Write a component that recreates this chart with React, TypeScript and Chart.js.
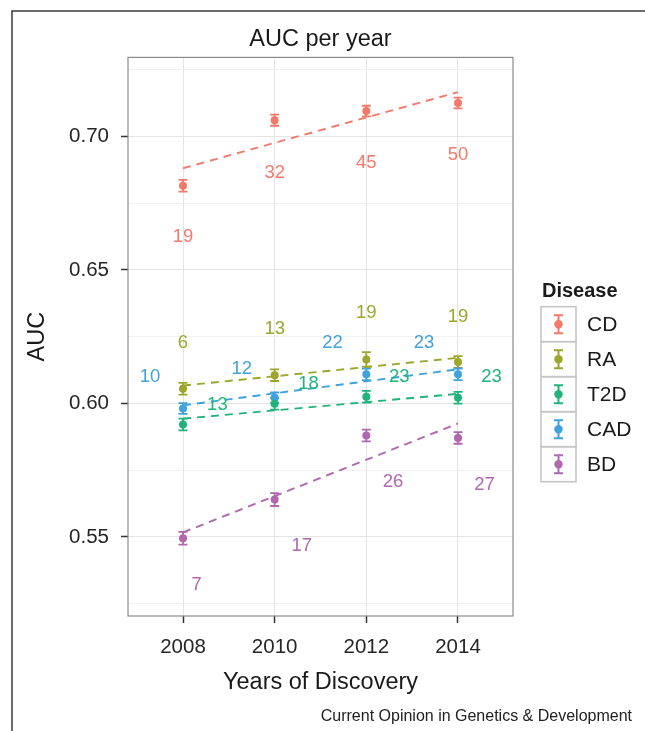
import React, { useEffect, useRef } from 'react';
import { Chart, registerables } from 'chart.js';

Chart.register(...registerables);

// ---------- data ----------
const diseases = ['CD', 'RA', 'T2D', 'CAD', 'BD'];
const colors = ['#F37A6B', '#9BA62B', '#20B47A', '#3FA2DC', '#B067B0'];
const years = [2008, 2010, 2012, 2014];
const yTicks = [0.525, 0.55, 0.575, 0.6, 0.625, 0.65, 0.675, 0.7, 0.725];

const aucCD = [0.6815, 0.7061, 0.7095, 0.7125];
const aucRA = [0.6055, 0.6106, 0.6165, 0.6155];
const aucT2D = [0.5921, 0.5999, 0.6025, 0.6021];
const aucCAD = [0.5981, 0.6021, 0.6109, 0.6109];
const aucBD = [0.5495, 0.564, 0.588, 0.5871];

const errCD = [0.0022, 0.0021, 0.002, 0.002];
const errRA = [0.0022, 0.0022, 0.0027, 0.0022];
const errT2D = [0.0022, 0.0022, 0.0022, 0.0022];
const errCAD = [0.002, 0.002, 0.0022, 0.0022];
const errBD = [0.0024, 0.0024, 0.0022, 0.0022];

// fitted trend values at 2008 and 2014
const trendYears = [2008, 2014];
const trendCD = [0.6881, 0.7166];
const trendRA = [0.6067, 0.6171];
const trendT2D = [0.5943, 0.6036];
const trendCAD = [0.5993, 0.6128];
const trendBD = [0.5517, 0.5925];

// study counts and where they are printed (data coordinates)
const countCD = [19, 32, 45, 50];
const countRA = [6, 13, 19, 19];
const countT2D = [13, 18, 23, 23];
const countCAD = [10, 12, 22, 23];
const countBD = [7, 17, 26, 27];

const labXCD = [2008, 2010, 2012, 2014];
const labYCD = [0.6623, 0.6865, 0.6899, 0.693];
const labXRA = [2008, 2010, 2012, 2014];
const labYRA = [0.6228, 0.628, 0.634, 0.6325];
const labXT2D = [2008.75, 2010.74, 2012.72, 2014.73];
const labYT2D = [0.5996, 0.6075, 0.61, 0.61];
const labXCAD = [2007.28, 2009.28, 2011.26, 2013.26];
const labYCAD = [0.61, 0.6131, 0.6228, 0.6228];
const labXBD = [2008.3, 2010.59, 2012.58, 2014.58];
const labYBD = [0.5321, 0.5468, 0.5705, 0.5696];

const series = [
  { auc: aucCD, err: errCD, trend: trendCD, count: countCD, lx: labXCD, ly: labYCD },
  { auc: aucRA, err: errRA, trend: trendRA, count: countRA, lx: labXRA, ly: labYRA },
  { auc: aucT2D, err: errT2D, trend: trendT2D, count: countT2D, lx: labXT2D, ly: labYT2D },
  { auc: aucCAD, err: errCAD, trend: trendCAD, count: countCAD, lx: labXCAD, ly: labYCAD },
  { auc: aucBD, err: errBD, trend: trendBD, count: countBD, lx: labXBD, ly: labYBD },
];

const FONT = "'Liberation Sans', Arial, Helvetica, sans-serif";
const isMajor = (v: number) => Math.round(v * 1000) % 50 === 0;

const overlay = {
  id: 'overlay',
  beforeDraw(chart: any) {
    const ctx = chart.ctx;
    ctx.save();
    ctx.fillStyle = '#ffffff';
    ctx.fillRect(0, 0, chart.width, chart.height);
    ctx.strokeStyle = '#3a3a3a';
    ctx.lineWidth = 1.5;
    ctx.beginPath();
    ctx.moveTo(12, chart.height);
    ctx.lineTo(12, 11);
    ctx.lineTo(chart.width, 11);
    ctx.stroke();
    ctx.restore();
  },
  beforeDatasetsDraw(chart: any) {
    const ctx = chart.ctx;
    const xs = chart.scales.x;
    const ys = chart.scales.y;
    ctx.save();
    ctx.lineWidth = 1.8;
    series.forEach((s, i) => {
      ctx.strokeStyle = colors[i];
      years.forEach((yr, j) => {
        const px = xs.getPixelForValue(yr);
        const top = ys.getPixelForValue(s.auc[j] + s.err[j]);
        const bot = ys.getPixelForValue(s.auc[j] - s.err[j]);
        ctx.beginPath();
        ctx.moveTo(px, top);
        ctx.lineTo(px, bot);
        ctx.moveTo(px - 4.5, top);
        ctx.lineTo(px + 4.5, top);
        ctx.moveTo(px - 4.5, bot);
        ctx.lineTo(px + 4.5, bot);
        ctx.stroke();
      });
    });
    ctx.restore();
  },
  afterDatasetsDraw(chart: any) {
    const ctx = chart.ctx;
    const xs = chart.scales.x;
    const ys = chart.scales.y;
    const a = chart.chartArea;
    ctx.save();
    ctx.font = `18.5px ${FONT}`;
    ctx.textAlign = 'center';
    ctx.textBaseline = 'middle';
    series.forEach((s, i) => {
      ctx.fillStyle = colors[i];
      s.count.forEach((c, j) => {
        ctx.fillText(String(c), xs.getPixelForValue(s.lx[j]), ys.getPixelForValue(s.ly[j]));
      });
    });
    ctx.strokeStyle = '#8a8a8a';
    ctx.lineWidth = 1.2;
    ctx.strokeRect(a.left, a.top, a.right - a.left, a.bottom - a.top);
    ctx.restore();
  },
  afterDraw(chart: any) {
    const ctx = chart.ctx;
    ctx.save();
    ctx.fillStyle = '#1a1a1a';
    ctx.font = `bold 20px ${FONT}`;
    ctx.textAlign = 'left';
    ctx.textBaseline = 'middle';
    ctx.fillText('Disease', 542, 291);
    const bx = 541, by = 306.7, bw = 35, bh = 35;
    diseases.forEach((d, i) => {
      const top = by + i * bh;
      const cx = bx + bw / 2;
      const cy = top + bh / 2;
      ctx.strokeStyle = '#c6c6c6';
      ctx.lineWidth = 1.6;
      ctx.strokeRect(bx, top, bw, bh);
      ctx.strokeStyle = colors[i];
      ctx.lineWidth = 2;
      ctx.beginPath();
      ctx.moveTo(cx, cy - 9);
      ctx.lineTo(cx, cy + 9);
      ctx.moveTo(cx - 4.5, cy - 9);
      ctx.lineTo(cx + 4.5, cy - 9);
      ctx.moveTo(cx - 4.5, cy + 9);
      ctx.lineTo(cx + 4.5, cy + 9);
      ctx.stroke();
      ctx.fillStyle = colors[i];
      ctx.beginPath();
      ctx.arc(cx, cy, 4.2, 0, Math.PI * 2);
      ctx.fill();
      ctx.fillStyle = '#1a1a1a';
      ctx.font = `21px ${FONT}`;
      ctx.fillText(d, 587, cy + 1);
    });
    ctx.restore();
  },
};

export default function App() {
  const ref = useRef<HTMLCanvasElement | null>(null);

  useEffect(() => {
    if (!ref.current) return;
    const datasets: any[] = [];
    series.forEach((s, i) => {
      datasets.push({
        type: 'line',
        label: diseases[i] + ' trend',
        data: trendYears.map((yr, j) => ({ x: yr, y: s.trend[j] })),
        borderColor: colors[i],
        borderWidth: 1.9,
        borderDash: [8, 6],
        pointRadius: 0,
        fill: false,
        order: 2,
      });
      datasets.push({
        type: 'scatter',
        label: diseases[i],
        data: years.map((yr, j) => ({ x: yr, y: s.auc[j] })),
        backgroundColor: colors[i],
        borderColor: colors[i],
        borderWidth: 0,
        pointRadius: 4,
        order: 1,
      });
    });

    const chart = new Chart(ref.current, {
      type: 'scatter',
      data: { datasets },
      options: {
        animation: false,
        responsive: false,
        layout: { padding: { left: 0, top: 0, right: 13, bottom: 0 } },
        plugins: {
          legend: { display: false },
          tooltip: { enabled: false },
          title: {
            display: true,
            text: 'AUC per year',
            fullSize: false,
            color: '#1a1a1a',
            font: { family: FONT, size: 23.5, weight: 'normal' },
            padding: { top: 25.6, bottom: 3.6 },
          },
          subtitle: {
            display: true,
            text: 'Current Opinion in Genetics & Development',
            position: 'bottom',
            align: 'end',
            fullSize: true,
            color: '#222222',
            font: { family: FONT, size: 16, weight: 'normal' },
            padding: { top: 0, bottom: 4.7 },
          },
        },
        scales: {
          x: {
            type: 'linear',
            position: 'bottom',
            min: 2006.8,
            max: 2015.2,
            afterBuildTicks: (s: any) => {
              s.ticks = years.map((v) => ({ value: v }));
            },
            afterFit: (s: any) => {
              s.height = 91.1;
            },
            ticks: {
              color: '#262626',
              font: { family: FONT, size: 20.5 },
              padding: 12,
              maxRotation: 0,
              callback: (v: any) => String(v),
            },
            grid: {
              color: '#e4e4e4',
              lineWidth: 1,
              tickColor: '#333333',
              tickLength: 7,
              tickWidth: 1.5,
            },
            border: { display: false },
            title: {
              display: true,
              text: 'Years of Discovery',
              color: '#1a1a1a',
              font: { family: FONT, size: 23.5 },
              padding: { top: 0, bottom: 10.7 },
            },
          },
          y: {
            type: 'linear',
            position: 'left',
            min: 0.5204,
            max: 0.7296,
            afterBuildTicks: (s: any) => {
              s.ticks = yTicks.map((v) => ({ value: v }));
            },
            afterFit: (s: any) => {
              s.width = 128;
            },
            ticks: {
              color: '#262626',
              font: { family: FONT, size: 20.5 },
              padding: 12,
              callback: (v: any) => (isMajor(v) ? Number(v).toFixed(2) : ''),
            },
            grid: {
              color: (c: any) => (c.tick && isMajor(c.tick.value) ? '#e4e4e4' : '#f1f1f1'),
              lineWidth: 1,
              tickColor: (c: any) => (c.tick && isMajor(c.tick.value) ? '#333333' : 'rgba(0,0,0,0)'),
              tickLength: 7,
              tickWidth: 1.5,
            },
            border: { display: false },
            title: {
              display: true,
              text: 'AUC',
              color: '#1a1a1a',
              font: { family: FONT, size: 23.5 },
              padding: { top: 23.6, bottom: 0 },
            },
          },
          yR: {
            type: 'linear',
            axis: 'y',
            position: 'right',
            display: true,
            min: 0,
            max: 1,
            afterFit: (s: any) => {
              s.width = 119;
            },
            ticks: { display: false },
            grid: { display: false },
            border: { display: false },
          },
        },
      } as any,
      plugins: [overlay],
    });
    return () => chart.destroy();
  }, []);

  return (
    <div style={{ position: 'fixed', left: 0, top: 0, width: 645, height: 731, background: '#fff' }}>
      <canvas ref={ref} width={645} height={731} style={{ display: 'block' }} />
    </div>
  );
}
